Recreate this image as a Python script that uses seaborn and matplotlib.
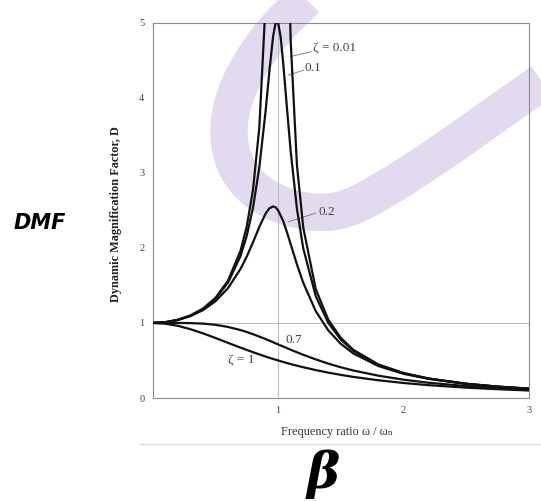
import numpy as np
import pandas as pd
import matplotlib
matplotlib.use("Agg")
import matplotlib.pyplot as plt
from matplotlib.lines import Line2D
import seaborn as sns

# ---- data ----
beta = [0.0, 0.1, 0.2, 0.3, 0.4, 0.5, 0.6, 0.7, 0.75, 0.8, 0.85, 0.9, 0.93, 0.96,
        0.98, 0.99, 1.0, 1.02, 1.04, 1.07, 1.1, 1.15, 1.2, 1.3, 1.4, 1.5, 1.6,
        1.8, 2.0, 2.2, 2.5, 2.75, 3.0]
dmf_z001 = [1.0, 1.010, 1.042, 1.099, 1.190, 1.333, 1.562, 1.961, 2.286, 2.778,
            3.604, 5.26, 7.4, 12.7, 24.0, 33.0, 50.0, 24.0, 12.25, 6.9, 4.76,
            3.10, 2.273, 1.449, 1.042, 0.800, 0.641, 0.446, 0.333, 0.260,
            0.190, 0.152, 0.125]
dmf_z01 = [1.0, 1.010, 1.041, 1.097, 1.185, 1.322, 1.536, 1.891, 2.162, 2.538,
           3.073, 3.821, 4.35, 4.82, 5.0, 5.02, 5.0, 4.81, 4.47, 3.87, 3.29,
           2.52, 1.995, 1.356, 1.0, 0.778, 0.628, 0.441, 0.330, 0.259, 0.190,
           0.152, 0.125]
dmf_z02 = [1.0, 1.009, 1.038, 1.090, 1.170, 1.288, 1.463, 1.719, 1.885, 2.076,
           2.279, 2.457, 2.527, 2.552, 2.54, 2.52, 2.5, 2.43, 2.36, 2.21, 2.05,
           1.78, 1.536, 1.157, 0.900, 0.721, 0.593, 0.425, 0.322, 0.254,
           0.187, 0.150, 0.124]
dmf_z07 = [1.0, 1.0, 1.0, 0.998, 0.991, 0.975, 0.947, 0.905, 0.879, 0.850,
           0.818, 0.785, 0.764, 0.743, 0.728, 0.721, 0.714, 0.700, 0.686,
           0.665, 0.643, 0.609, 0.576, 0.514, 0.458, 0.409, 0.366, 0.297,
           0.244, 0.203, 0.159, 0.131, 0.111]
dmf_z1 = [1.0, 0.990, 0.962, 0.917, 0.862, 0.800, 0.735, 0.671, 0.640, 0.610,
          0.581, 0.552, 0.536, 0.520, 0.510, 0.505, 0.500, 0.490, 0.480,
          0.466, 0.452, 0.431, 0.410, 0.372, 0.338, 0.308, 0.281, 0.236,
          0.200, 0.171, 0.138, 0.117, 0.100]
zeta_names = ["0.01", "0.1", "0.2", "0.7", "1"]
series = [dmf_z001, dmf_z01, dmf_z02, dmf_z07, dmf_z1]

x_ticks = [0, 1, 2, 3]
x_ticklabels = ["", "1", "2", "3"]
y_ticks = [0, 1, 2, 3, 4, 5]
y_ticklabels = ["0", "1", "2", "3", "4", "5"]

df = pd.concat([pd.DataFrame({"beta": beta, "D": s, "zeta": z})
                for z, s in zip(zeta_names, series)], ignore_index=True)

sns.set_theme(style="white")
plt.rcParams["font.family"] = ["Liberation Serif", "DejaVu Serif"]

W, H = 541, 501
fig = plt.figure(figsize=(W / 100, H / 100), dpi=100)
fig.patch.set_facecolor("white")
ax = fig.add_axes([152.7 / W, 1 - 398 / H, (529 - 152.7) / W, (398 - 22.7) / H])
ax.set_facecolor("none")


def catmull_rom(px, py, n=20):
    px = np.asarray(px, float)
    py = np.asarray(py, float)
    P = np.column_stack([px, py])
    P = np.vstack([P[0], P, P[-1]])
    out = []
    t = np.linspace(0, 1, n, endpoint=False)[:, None]
    for i in range(1, len(P) - 2):
        p0, p1, p2, p3 = P[i - 1], P[i], P[i + 1], P[i + 2]
        seg = 0.5 * ((2 * p1) + (-p0 + p2) * t + (2 * p0 - 5 * p1 + 4 * p2 - p3) * t ** 2
                     + (-p0 + 3 * p1 - 3 * p2 + p3) * t ** 3)
        out.append(seg)
    out.append(P[-2][None, :])
    out = np.vstack(out)
    return out[:, 0], out[:, 1]


# decorative watermark stroke (figure pixels)
wm_x = [335, 305, 275, 250, 234, 229, 235, 252, 277, 305, 330, 355, 390, 435, 485, 550]
wm_y = [-30, 0, 30, 65, 100, 133, 163, 187, 203, 211, 212, 205, 186, 157, 122, 76]
sx, sy = catmull_rom(wm_x, wm_y)
fig.add_artist(Line2D(sx / W, 1 - sy / H, transform=fig.transFigure, color="#e2dbef",
                      lw=27, solid_capstyle="butt", solid_joinstyle="round", zorder=-1))

ax.axhline(1, color="#bdbdbd", lw=0.8, zorder=1)
ax.axvline(1, color="#bdbdbd", lw=0.8, zorder=1)

sns.lineplot(data=df, x="beta", y="D", hue="zeta", palette=["#111111"] * 5,
             linewidth=1.6, legend=False, ax=ax, zorder=3, sort=False)

ax.set_xlim(0, 3)
ax.set_ylim(0, 5)
ax.set_xticks(x_ticks)
ax.set_xticklabels(x_ticklabels)
ax.set_yticks(y_ticks)
ax.set_yticklabels(y_ticklabels)
ax.set_xticks([0.5, 1.5, 2.5], minor=True)
ax.set_yticks([0.5, 1.5, 2.5, 3.5, 4.5], minor=True)
ax.tick_params(which="both", direction="in", color="#888888", width=0.8,
               labelsize=7.5, labelcolor="#444444")
ax.tick_params(which="major", length=3, pad=6)
ax.tick_params(which="minor", length=2.5)
for sp in ax.spines.values():
    sp.set_color("#8a8a8a")
    sp.set_linewidth(0.8)

ax.set_xlabel("Frequency ratio \u03c9 / \u03c9\u2099", fontsize=8.8, color="#333333")
ax.xaxis.set_label_coords(0.489, -0.074)
ax.set_ylabel("Dynamic Magnification Factor, D", fontsize=8.8, color="#222222",
              fontweight="bold")
ax.yaxis.set_label_coords(-0.082, 0.489)

tc = "#444444"
fs = 9.5
ax.text(1.278, 4.66, "\u03b6 = 0.01", fontsize=fs, color=tc, va="center", ha="left")
ax.plot([1.268, 1.10], [4.615, 4.55], color="#777777", lw=0.6)
ax.text(1.214, 4.40, "0.1", fontsize=fs, color=tc, va="center", ha="left")
ax.plot([1.205, 1.08], [4.37, 4.30], color="#777777", lw=0.6)
ax.text(1.318, 2.48, "0.2", fontsize=fs, color=tc, va="center", ha="left")
ax.plot([1.302, 1.08], [2.465, 2.345], color="#777777", lw=0.6)
ax.text(1.055, 0.773, "0.7", fontsize=fs, color=tc, va="center", ha="left")
ax.text(0.600, 0.506, "\u03b6 = 1", fontsize=fs, color=tc, va="center", ha="left")

# separator line under the x label
fig.add_artist(Line2D([140 / W, 1.0], [1 - 444 / H, 1 - 444 / H],
                      transform=fig.transFigure, color="#dddddd", lw=1.0))

fig.text(14 / W, 1 - 223 / H, "DMF", fontsize=15, fontweight="bold", style="italic",
         family=["DejaVu Sans"], va="center", ha="left", color="black")
fig.text(323 / W, 1 - 499 / H, "\u03b2", fontsize=36, fontweight="bold", style="italic",
         family=["DejaVu Serif"], va="bottom", ha="center", color="black")

fig.savefig("out.png", dpi=100)
